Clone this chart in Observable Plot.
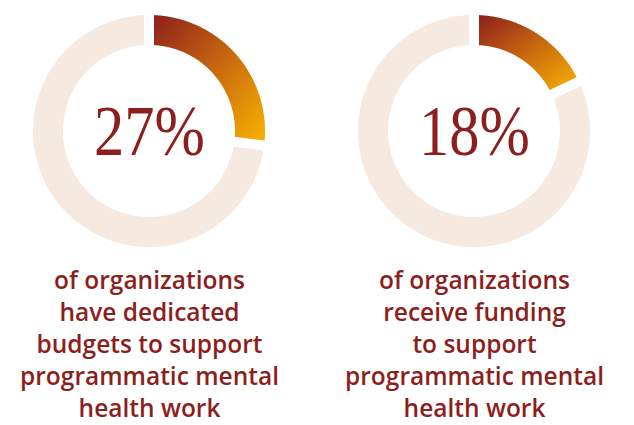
<!DOCTYPE html>
<html><head><meta charset="utf-8">
<script src="https://cdn.jsdelivr.net/npm/d3@7"></script>
<script src="https://cdn.jsdelivr.net/npm/@observablehq/plot@0.6"></script>
<style>html,body{margin:0;padding:0;background:#fff}</style>
</head><body><div id="chart"></div>
<script>
// ---- data ----
const chartIds = ["budgets", "funding"];
const percents = [27, 18];
const captions = [
  ["of organizations", "have dedicated", "budgets to support", "programmatic mental", "health work"],
  ["of organizations", "receive funding", "to support", "programmatic mental", "health work"]
];

// ---- layout (pixel units, identity scales) ----
const W = 634, H = 425;
const centerX = [149, 474];
const centerY = 131;
const rInner = 86, rOuter = 116, halfGap = 5;
const darkRed = "#8c1f1d", gold = "#f7b200", beige = "#f5e9e0";

function ring(i, a0, a1, key) {
  const di = Math.asin(halfGap / rInner), dout = Math.asin(halfGap / rOuter);
  const n = 160, rows = [];
  for (let k = 0; k <= n; k++) {
    const t = k / n;
    const ti = a0 + di + (a1 - a0 - 2 * di) * t;
    const to = a0 + dout + (a1 - a0 - 2 * dout) * t;
    rows.push({
      key,
      xi: centerX[i] + rInner * Math.sin(ti), yi: centerY - rInner * Math.cos(ti),
      xo: centerX[i] + rOuter * Math.sin(to), yo: centerY - rOuter * Math.cos(to)
    });
  }
  return rows;
}

const filled = [], rest = [];
percents.forEach((p, i) => {
  const a = p / 100 * 2 * Math.PI;
  filled.push(ring(i, 0, a, chartIds[i] + "-value"));
  rest.push(...ring(i, a, 2 * Math.PI, chartIds[i] + "-rest"));
});

const defs = () => {
  const d = d3.create("svg:defs");
  chartIds.forEach(id => {
    const g = d.append("linearGradient").attr("id", "grad-" + id)
      .attr("x1", 0).attr("y1", 0).attr("x2", 1).attr("y2", 1);
    g.append("stop").attr("offset", "0%").attr("stop-color", darkRed);
    g.append("stop").attr("offset", "50%").attr("stop-color", "#c8690f");
    g.append("stop").attr("offset", "100%").attr("stop-color", gold);
  });
  return d.node();
};

const idx = d3.range(percents.length);

const plot = Plot.plot({
  width: W, height: H,
  margin: 0,
  x: {domain: [0, W], range: [0, W], axis: null},
  y: {domain: [0, H], range: [0, H], axis: null},
  style: {background: "#fff"},
  marks: [
    defs,
    Plot.area(rest, {x1: "xi", y1: "yi", x2: "xo", y2: "yo", z: "key", fill: beige, curve: "linear"}),
    ...filled.map((rows, i) => Plot.area(rows, {x1: "xi", y1: "yi", x2: "xo", y2: "yo", fill: `url(#grad-${chartIds[i]})`, curve: "linear"})),
    Plot.text(idx, {
      x: i => centerX[i], y: centerY, text: i => `${percents[i]}%`,
      fontFamily: "Liberation Serif, serif", fontSize: 72, fill: darkRed,
      textAnchor: "middle", lineAnchor: "middle"
    }),
    Plot.text(idx, {
      x: i => centerX[i], y: 266, text: i => captions[i].join("\n"),
      fontFamily: "Open Sans, sans-serif", fontSize: 24.5, fontWeight: 600, fill: darkRed,
      textAnchor: "middle", lineAnchor: "top", lineHeight: 1.3
    })
  ]
});
document.getElementById("chart").append(plot);
// condense the big serif percentages like the reference typeface
d3.select(plot).selectAll('g[font-size="72"] text').each(function () {
  const len = this.getComputedTextLength();
  this.setAttribute("textLength", (len * 0.84).toFixed(1));
  this.setAttribute("lengthAdjust", "spacingAndGlyphs");
});
</script>
</body></html>
